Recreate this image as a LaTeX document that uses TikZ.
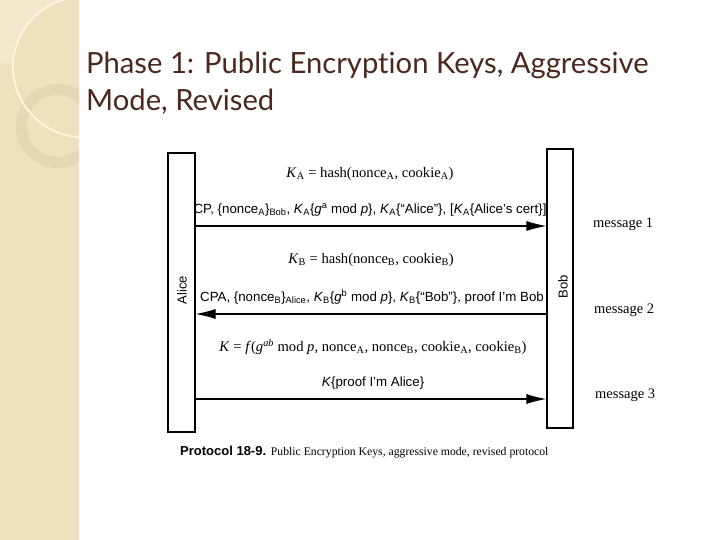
\documentclass[tikz,border=0pt]{standalone}
\usepackage{fontspec}
\setmainfont{Liberation Serif}
\setsansfont{Liberation Sans}
\newfontfamily\titlefont[Ligatures={NoCommon,NoRare,NoDiscretionary}]{Lato}
\usetikzlibrary{arrows.meta}
\definecolor{strip}{RGB}{239,225,189}
\definecolor{stripl}{RGB}{242,232,206}
\definecolor{ringc}{RGB}{229,215,180}
\definecolor{arcc}{RGB}{252,246,226}
\definecolor{titlec}{RGB}{77,40,30}
\tikzset{
  lifeline/.style={draw, line width=1.1pt, inner sep=0pt},
  msg/.style={line width=1.1pt, -{Latex[length=20pt,width=10pt]}},
  formula/.style={font=\fontsize{14.6}{16}\selectfont, inner sep=0pt},
  msgtext/.style={font=\sffamily\fontsize{13.3}{15}\selectfont, inner sep=0pt},
  side/.style={font=\fontsize{14.5}{16}\selectfont, anchor=west, inner sep=0pt},
  who/.style={font=\sffamily\fontsize{13}{15}\selectfont, rotate=90, inner sep=0pt},
  titletext/.style={anchor=base west, inner sep=0pt, text=titlec, font=\titlefont\fontsize{29.2}{36}\selectfont},
}
\begin{document}
\begin{tikzpicture}[x=1pt,y=-1pt]
\useasboundingbox (0,0) rectangle (720,540);
\fill[white] (0,0) rectangle (720,540);
% decorative strip
\begin{scope}
  \clip (0,0) rectangle (79,540);
  \fill[strip] (0,0) rectangle (79,540);
  \fill[stripl] (-7.5,-132.5) circle[radius=196];
  \fill[strip] (83,67) circle[radius=70];
  \fill[ringc, even odd rule] (58,126) circle[radius=42] (58,126) circle[radius=31];
  \draw[arcc, line width=1.8pt] (83,67) circle[radius=70];
\end{scope}
% title
\node[titletext] (title1) at (86,74) {Phase 1: Public Encryption Keys, Aggressive};
\node[titletext] (title2) at (86,111) {Mode, Revised};
% lifelines
\node[lifeline, minimum width=27pt, minimum height=279pt] (alice) at (181.5,292.5) {};
\node[who] (alicelbl) at (182,290) {Alice};
\node[lifeline, minimum width=26pt, minimum height=279pt] (bob) at (560,288.5) {};
\node[who] (boblbl) at (563,287) {Bob};
% message rows
\coordinate (m1) at (0,226);
\coordinate (m2) at (0,314);
\coordinate (m3) at (0,399);
\draw[msg] (alice.east |- m1) -- (bob.west |- m1);
\draw[msg] (bob.west |- m2) -- (alice.east |- m2);
\draw[msg] (alice.east |- m3) -- (bob.west |- m3);
% texts
\node[formula] (ka) at (370,174) {\textit{K}\textsubscript{A} = hash(nonce\textsubscript{A}, cookie\textsubscript{A})};
\node[msgtext] (t1) at (370,210) {CP, \{nonce\textsubscript{A}\}\textsubscript{Bob}, \textit{K}\textsubscript{A}\{\textit{g}\textsuperscript{a} mod \textit{p}\}, \textit{K}\textsubscript{A}\{``Alice''\}, [\textit{K}\textsubscript{A}\{Alice's cert\}]};
\node[formula] (kb) at (371,260) {\textit{K}\textsubscript{B} = hash(nonce\textsubscript{B}, cookie\textsubscript{B})};
\node[msgtext] (t2) at (372,297) {CPA, \{nonce\textsubscript{B}\}\textsubscript{Alice}, \textit{K}\textsubscript{B}\{\textit{g}\textsuperscript{b} mod \textit{p}\}, \textit{K}\textsubscript{B}\{``Bob''\}, proof I'm Bob};
\node[formula] (k) at (373,347) {\textit{K} = \textit{f}(\textit{g}\textsuperscript{\textit{ab}} mod \textit{p}, nonce\textsubscript{A}, nonce\textsubscript{B}, cookie\textsubscript{A}, cookie\textsubscript{B})};
\node[msgtext] (t3) at (373,383) {\textit{K}\{proof I'm Alice\}};
\node[side] (s1) at (593,224) {message 1};
\node[side] (s2) at (594,310) {message 2};
\node[side] (s3) at (595,395) {message 3};
\node[anchor=west, inner sep=0pt] (cap) at (180,452) {\sffamily\bfseries\fontsize{13}{15}\selectfont Protocol 18-9. \rmfamily\mdseries\fontsize{11.7}{14}\selectfont Public Encryption Keys, aggressive mode, revised protocol};
\end{tikzpicture}
\end{document}
